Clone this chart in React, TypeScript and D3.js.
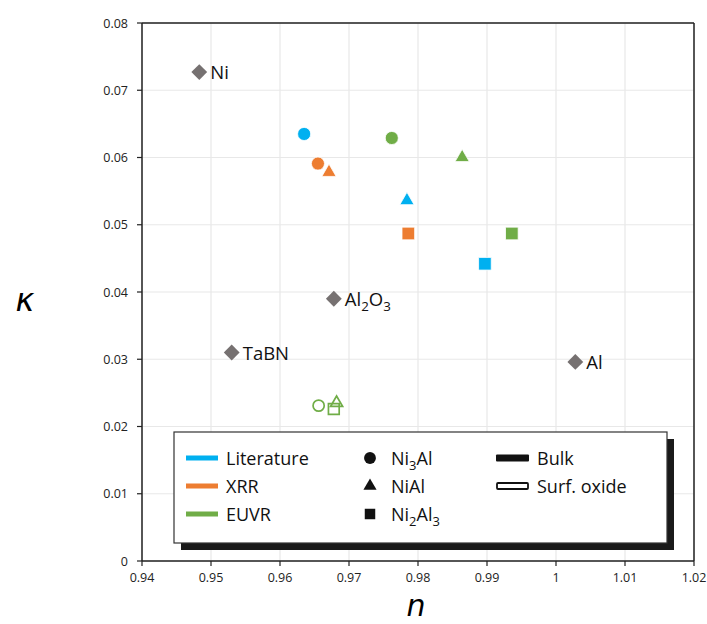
import React from "react";
import * as d3 from "d3";

const xTicks = [0.94, 0.95, 0.96, 0.97, 0.98, 0.99, 1, 1.01, 1.02];
const yTicks = [0, 0.01, 0.02, 0.03, 0.04, 0.05, 0.06, 0.07, 0.08];

// reference materials (gray diamonds)
const refNames = ["Ni", "Al2O3", "TaBN", "Al"];
const refN = [0.9483, 0.9678, 0.953, 1.0028];
const refK = [0.0727, 0.039, 0.031, 0.0296];

// methods x compounds
const methods = ["Literature", "XRR", "EUVR"];
const methodColors = ["#00B0F0", "#ED7D31", "#70AD47"];
const compounds = ["Ni3Al", "NiAl", "Ni2Al3"];
// bulk values [method][compound]
const bulkN = [
  [0.9635, 0.9784, 0.9897],
  [0.9655, 0.9671, 0.9786],
  [0.9762, 0.9864, 0.9936],
];
const bulkK = [
  [0.0635, 0.0536, 0.0442],
  [0.0591, 0.0578, 0.0487],
  [0.0629, 0.06, 0.0487],
];
// surface oxide (EUVR only)
const oxN = [0.9656, 0.9682, 0.9678];
const oxK = [0.0231, 0.0235, 0.0226];

const W = 707, H = 624;
const M = { left: 142, right: 694, top: 23, bottom: 561 };

const tickFont = "'Open Sans', 'Liberation Sans', sans-serif";
const labFont = "'Open Sans', Lato, sans-serif";

function symFor(ci: number) {
  if (ci === 0) return d3.symbol().type(d3.symbolCircle).size(135)();
  if (ci === 1) return d3.symbol().type(d3.symbolTriangle).size(88)();
  return d3.symbol().type(d3.symbolSquare).size(160)();
}

function Formula({ name, x, y, size }: { name: string; x: number; y: number; size: number }) {
  const parts: { t: string; sub: boolean }[] = [];
  const re = /([A-Za-z]+)(\d*)/g;
  let m;
  while ((m = re.exec(name)) !== null) {
    if (m[1]) parts.push({ t: m[1], sub: false });
    if (m[2]) parts.push({ t: m[2], sub: true });
  }
  return (
    <text x={x} y={y} fontFamily={labFont} fontSize={size} fill="#111">
      {parts.map((p, i) =>
        p.sub ? (
          <tspan key={i} dy={size * 0.3} fontSize={size * 0.72}>{p.t}</tspan>
        ) : (
          <tspan key={i} dy={i > 0 && parts[i - 1].sub ? -size * 0.3 : 0}>{p.t}</tspan>
        )
      )}
    </text>
  );
}

export default function App() {
  const x = d3.scaleLinear().domain([0.94, 1.02]).range([M.left, M.right]);
  const y = d3.scaleLinear().domain([0, 0.08]).range([M.bottom, M.top]);
  const diamond = d3.symbol().type(d3.symbolSquare).size(125)();

  const lg = { x: 174, y: 432, w: 493, h: 111 };
  const rowY = [458, 486, 514];

  return (
    <svg width={W} height={H} style={{ position: "absolute", left: 0, top: 0 }}>
      <rect width={W} height={H} fill="#fff" />
      {/* grid */}
      {xTicks.map((t, i) => (
        <line key={"gx" + i} x1={x(t)} x2={x(t)} y1={M.top} y2={M.bottom} stroke="#e8e8e8" strokeWidth={1.2} />
      ))}
      {yTicks.map((t, i) => (
        <line key={"gy" + i} x1={M.left} x2={M.right} y1={y(t)} y2={y(t)} stroke="#e8e8e8" strokeWidth={1.2} />
      ))}
      {/* frame */}
      <line x1={M.left} x2={M.right} y1={M.top} y2={M.top} stroke="#222" strokeWidth={1.5} />
      <line x1={M.right} x2={M.right} y1={M.top} y2={M.bottom} stroke="#222" strokeWidth={1.5} />
      <line x1={M.left} x2={M.left} y1={M.top} y2={M.bottom} stroke="#222" strokeWidth={1.5} />
      <line x1={M.left} x2={M.right} y1={M.bottom} y2={M.bottom} stroke="#222" strokeWidth={1.5} />
      {/* ticks */}
      {xTicks.map((t, i) => (
        <g key={"xt" + i}>
          <line x1={x(t)} x2={x(t)} y1={M.bottom} y2={M.bottom + 5} stroke="#222" strokeWidth={1.2} />
          <text x={x(t)} y={M.bottom + 21} textAnchor="middle" fontFamily={tickFont} fontSize={12.5} fill="#222">
            {d3.format("~g")(t)}
          </text>
        </g>
      ))}
      {yTicks.map((t, i) => (
        <g key={"yt" + i}>
          <line x1={M.left - 5} x2={M.left} y1={y(t)} y2={y(t)} stroke="#222" strokeWidth={1.2} />
          <text x={M.left - 14} y={y(t) + 4.5} textAnchor="end" fontFamily={tickFont} fontSize={12.5} fill="#222">
            {t === 0 ? "0" : d3.format(".2f")(t)}
          </text>
        </g>
      ))}
      {/* axis titles */}
      <text x={25} y={311} textAnchor="middle" fontFamily="'DejaVu Sans', sans-serif" fontStyle="italic" fontSize={32} fill="#000">κ</text>
      <text x={416} y={616} textAnchor="middle" fontFamily="'DejaVu Sans', sans-serif" fontStyle="italic" fontSize={30} fill="#000">n</text>

      {/* reference diamonds */}
      {refNames.map((nm, i) => (
        <g key={"r" + i}>
          <path d={diamond!} transform={`translate(${x(refN[i])},${y(refK[i])}) rotate(45)`} fill="#767171" />
          <Formula name={nm} x={x(refN[i]) + 11} y={y(refK[i]) + 7} size={18.5} />
        </g>
      ))}

      {/* surface oxide open markers */}
      {compounds.map((c, ci) => (
        <path key={"o" + ci} d={symFor(ci)!} transform={`translate(${x(oxN[ci])},${y(oxK[ci])}) scale(0.85)`}
          fill="none" stroke={methodColors[2]} strokeWidth={2} />
      ))}

      {/* bulk markers */}
      {methods.map((m, mi) =>
        compounds.map((c, ci) => (
          <path key={m + c} d={symFor(ci)!} transform={`translate(${x(bulkN[mi][ci])},${y(bulkK[mi][ci])})`}
            fill={methodColors[mi]} stroke="#fff" strokeWidth={0.8} />
        ))
      )}

      {/* legend */}
      <rect x={lg.x + 7} y={lg.y + 7} width={lg.w} height={lg.h} fill="#1a1a1a" />
      <rect x={lg.x} y={lg.y} width={lg.w} height={lg.h} fill="#fff" stroke="#333" strokeWidth={1.2} />
      {methods.map((m, i) => (
        <g key={"lm" + i}>
          <rect x={186} y={rowY[i] - 2.5} width={32} height={5} fill={methodColors[i]} />
          <text x={226} y={rowY[i] + 6.5} fontFamily={labFont} fontSize={18} fill="#111">{m}</text>
        </g>
      ))}
      {compounds.map((c, i) => (
        <g key={"lc" + i}>
          <path d={d3.symbol().type(i === 0 ? d3.symbolCircle : i === 1 ? d3.symbolTriangle : d3.symbolSquare).size(i === 0 ? 110 : i === 1 ? 75 : 110)()!}
            transform={`translate(370,${rowY[i]})`} fill="#111" />
          <Formula name={c} x={391} y={rowY[i] + 6.5} size={18} />
        </g>
      ))}
      <rect x={496} y={rowY[0] - 3.5} width={33} height={7} fill="#111" rx={1} />
      <text x={537} y={rowY[0] + 6.5} fontFamily={labFont} fontSize={18} fill="#111">Bulk</text>
      <rect x={497} y={rowY[1] - 3} width={31} height={6} fill="#fff" stroke="#111" strokeWidth={1.8} rx={1} />
      <text x={537} y={rowY[1] + 6.5} fontFamily={labFont} fontSize={18} fill="#111">Surf. oxide</text>
    </svg>
  );
}
